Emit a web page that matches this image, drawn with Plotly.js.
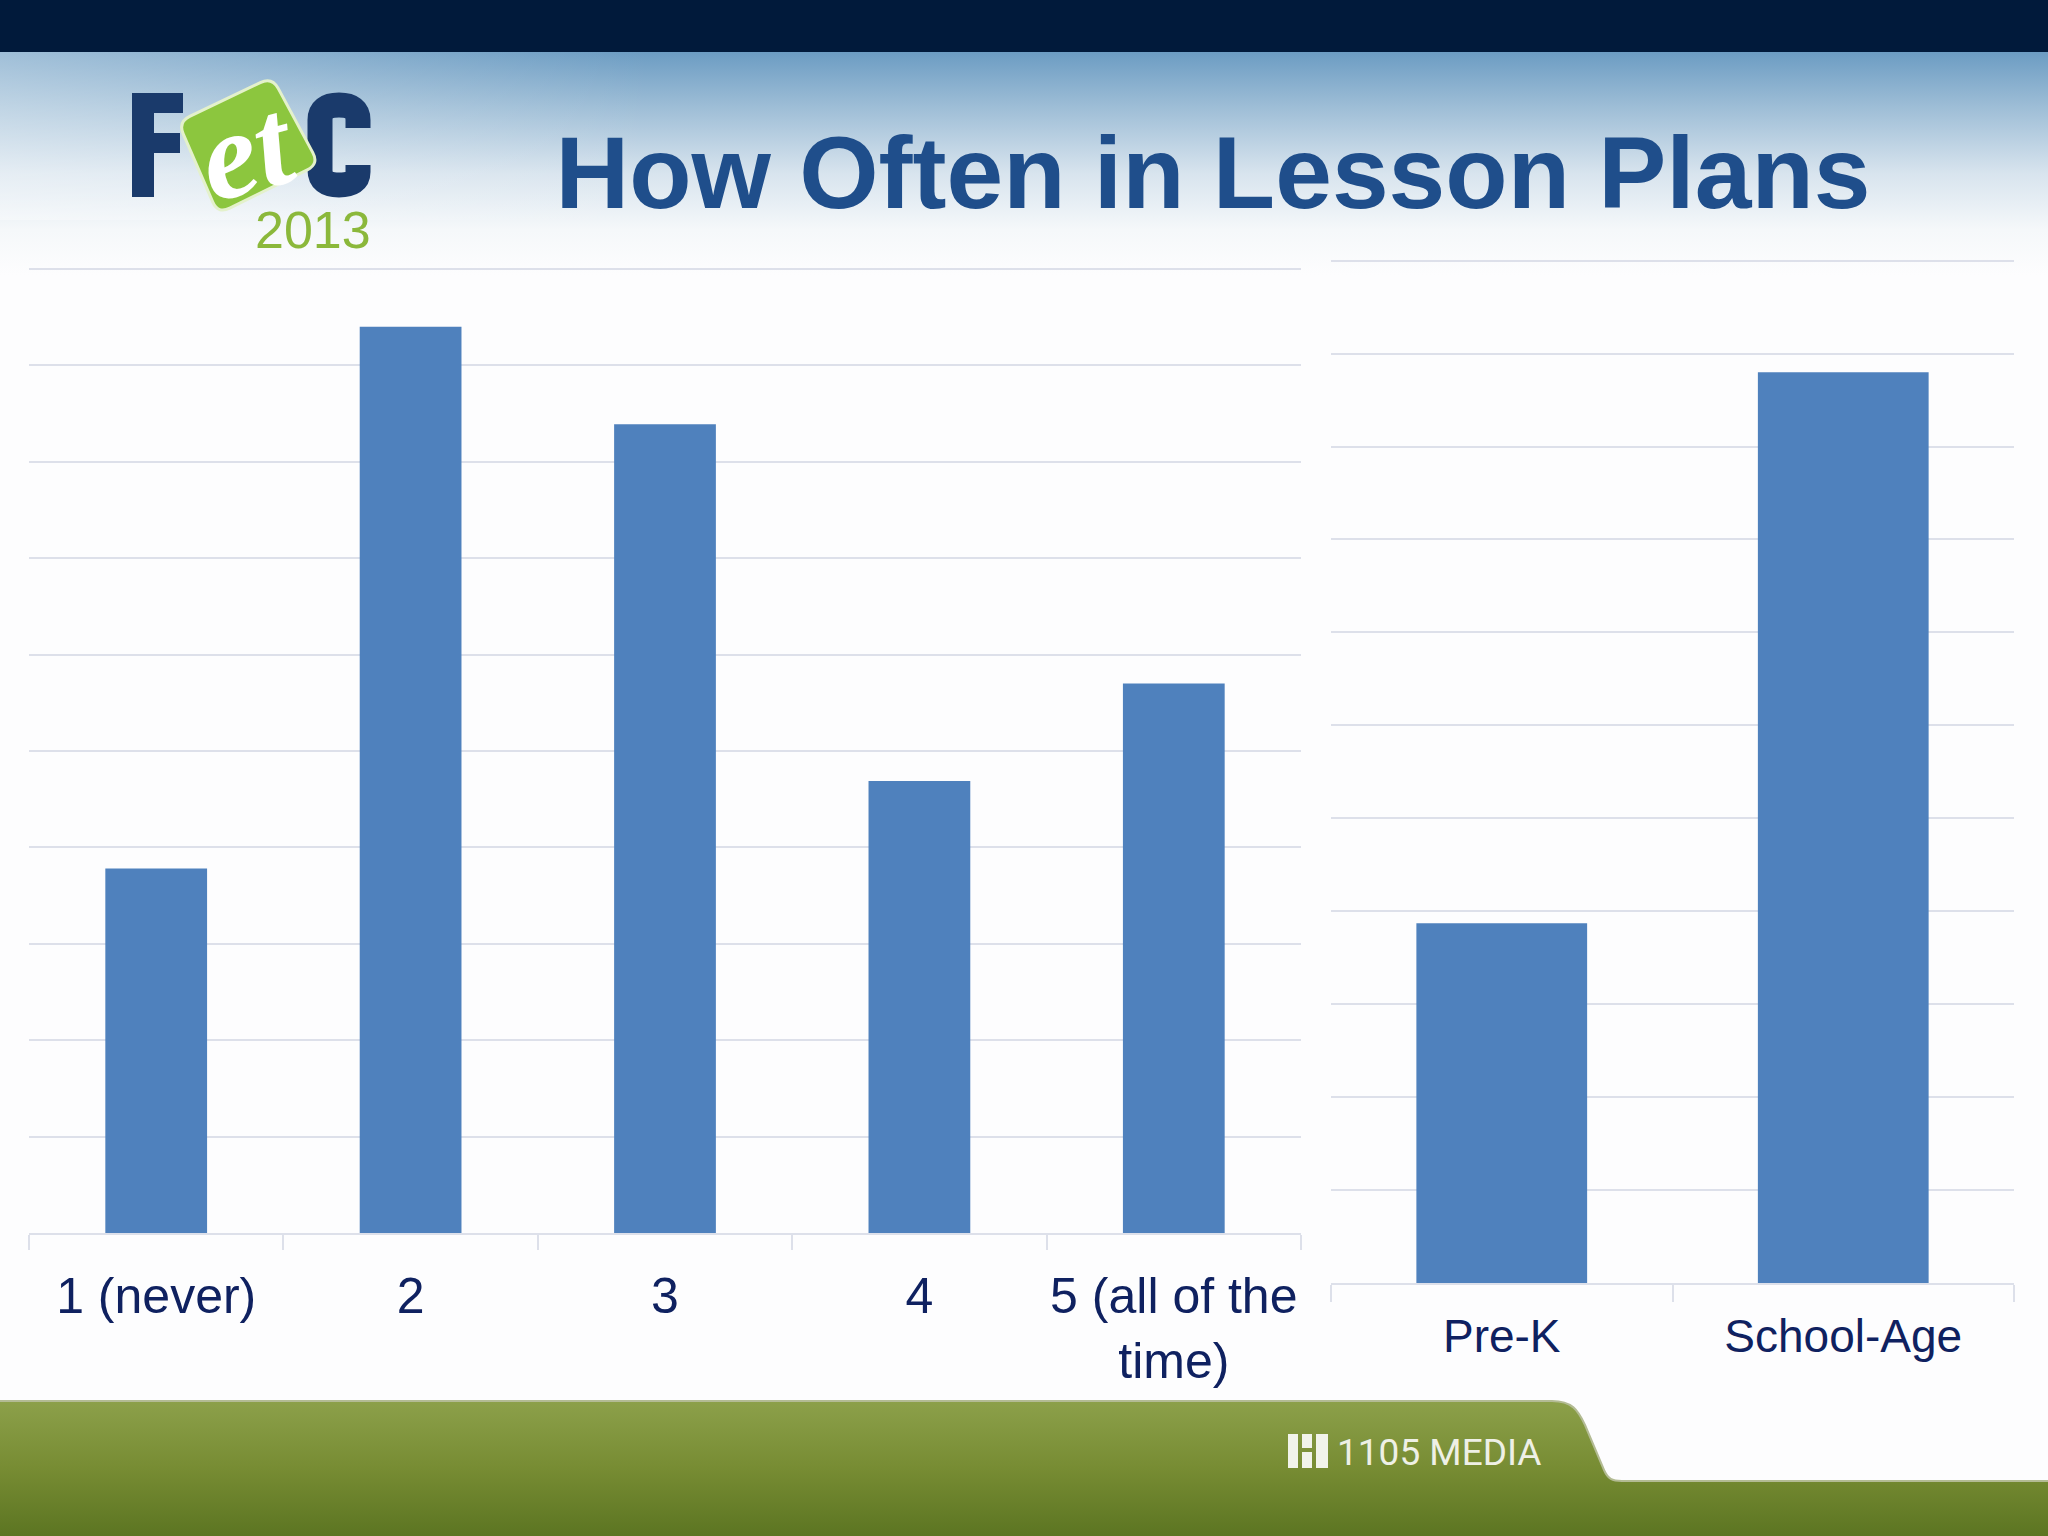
<!DOCTYPE html>
<html>
<head>
<meta charset="utf-8">
<script src="https://cdn.plot.ly/plotly-3.0.1.min.js"></script>
<style>
  html, body { margin: 0; padding: 0; background: #ffffff; }
  #wrap { position: relative; width: 2048px; height: 1536px; overflow: hidden; background: #fdfdfe; }
  #bg { position: absolute; left: 0; top: 0; }
  #chart { position: absolute; left: 0; top: 0; width: 2048px; height: 1536px; }
</style>
</head>
<body>
<div id="wrap">
  <svg id="bg" width="2048" height="1536" xmlns="http://www.w3.org/2000/svg">
    <defs>
      <linearGradient id="hdr" x1="0" y1="0" x2="0" y2="1">
        <stop offset="0" stop-color="#6a9bc2"/>
        <stop offset="0.25" stop-color="#9dbdd6"/>
        <stop offset="0.55" stop-color="#d8e4ee"/>
        <stop offset="0.8" stop-color="#f5f8fa"/>
        <stop offset="1" stop-color="#fdfdfe"/>
      </linearGradient>
      <linearGradient id="hdrLeft" x1="0" y1="0" x2="1" y2="0">
        <stop offset="0" stop-color="#ffffff" stop-opacity="0.35"/>
        <stop offset="1" stop-color="#ffffff" stop-opacity="0"/>
      </linearGradient>
      <linearGradient id="ftr" x1="0" y1="0" x2="0" y2="1">
        <stop offset="0" stop-color="#8ca04a"/>
        <stop offset="0.5" stop-color="#778c33"/>
        <stop offset="1" stop-color="#5c7522"/>
      </linearGradient>
    </defs>
    <rect x="0" y="50" width="2048" height="225" fill="url(#hdr)"/>
    <rect x="0" y="50" width="650" height="170" fill="url(#hdrLeft)"/>
    <rect x="0" y="0" width="2048" height="52" fill="#011a3b"/>
    <path d="M0,1401 L1552,1401 C1572,1401 1578,1410 1585,1425 L1604,1470 C1608,1479 1612,1481 1622,1481 L2048,1481 L2048,1536 L0,1536 Z" fill="url(#ftr)"/>
    <path d="M0,1401 L1552,1401 C1572,1401 1578,1410 1585,1425 L1604,1470 C1608,1479 1612,1481 1622,1481 L2048,1481" fill="none" stroke="#b3bb94" stroke-width="2"/>
    <!-- logo letters -->
    <polygon points="132,93 183,93 183,113 154,113 154,133 180,133 180,153 154,153 154,197 132,197" fill="#1a3a6b"/>
    <path d="M358,128 L358,120 Q358,105 339,105 Q320,105 320,120 L320,170 Q320,185 339,185 Q358,185 358,172 L358,165" fill="none" stroke="#1a3a6b" stroke-width="25"/>
    <path id="sq" d="" fill="#8cc63e" stroke="#e4f1cc" stroke-width="3"/>
    <!-- 1105 media icon -->
    <g fill="#f1f3ea">
      <rect x="1288" y="1434" width="10" height="34"/>
      <rect x="1302" y="1434" width="10" height="14"/>
      <rect x="1302" y="1452" width="10" height="16"/>
      <rect x="1316" y="1434" width="12" height="34"/>
    </g>
  </svg>
  <div id="chart"></div>
</div>
<script>
// ---- data ----
const leftCategories = ['1 (never)', '2', '3', '4', '5 (all of the<br>time)'];
const leftValues = [3.78, 9.40, 8.39, 4.69, 5.70];
const rightCategories = ['Pre-K', 'School-Age'];
const rightValues = [3.87, 9.80];
const titleText = 'How Often in Lesson Plans';

// rounded green square of the logo (decoration)
function roundedPoly(pts, r) {
  let d = '';
  const n = pts.length;
  for (let i = 0; i < n; i++) {
    const p0 = pts[(i - 1 + n) % n], p1 = pts[i], p2 = pts[(i + 1) % n];
    const v1 = [p0[0] - p1[0], p0[1] - p1[1]], v2 = [p2[0] - p1[0], p2[1] - p1[1]];
    const l1 = Math.hypot(v1[0], v1[1]), l2 = Math.hypot(v2[0], v2[1]);
    const a = [p1[0] + v1[0] / l1 * r, p1[1] + v1[1] / l1 * r];
    const b = [p1[0] + v2[0] / l2 * r, p1[1] + v2[1] / l2 * r];
    d += (i === 0 ? 'M' : 'L') + a[0].toFixed(1) + ',' + a[1].toFixed(1) +
         ' Q' + p1[0] + ',' + p1[1] + ' ' + b[0].toFixed(1) + ',' + b[1].toFixed(1) + ' ';
  }
  return d + 'Z';
}
document.getElementById('sq').setAttribute('d',
  roundedPoly([[178, 122], [272, 77], [319, 164], [218, 214]], 13));

const W = 2048, H = 1536;
const px = x => x / W;
const py = y => 1 - y / H;

const barColor = '#4f81bd';
const tickFont = { family: 'Liberation Sans, Arial, sans-serif', color: '#0f2160' };
const gridColor = '#dde0ea';

const traces = [
  { type: 'bar', x: leftCategories, y: leftValues, xaxis: 'x', yaxis: 'y',
    width: 0.4, marker: { color: barColor }, hoverinfo: 'skip' },
  { type: 'bar', x: rightCategories, y: rightValues, xaxis: 'x2', yaxis: 'y2',
    width: 0.5, marker: { color: barColor }, hoverinfo: 'skip' }
];

const axX = {
  type: 'category', showgrid: false, zeroline: false, tickangle: 0,
  showline: true, linecolor: gridColor, linewidth: 2,
  ticks: 'outside', tickson: 'boundaries', tickcolor: gridColor, tickwidth: 2
};
const axY = {
  showticklabels: false, ticks: '', zeroline: false, showline: false,
  gridcolor: gridColor, gridwidth: 2, tick0: 0, dtick: 1
};

// left panel: 96.4 px per unit, baseline 1233; right panel: 92.94 px per unit, baseline 1283
const layout = {
  width: W, height: H,
  margin: { l: 0, r: 0, t: 0, b: 0, pad: 0 },
  paper_bgcolor: 'rgba(0,0,0,0)', plot_bgcolor: 'rgba(0,0,0,0)',
  showlegend: false,
  title: {
    text: titleText, x: px(1213), xanchor: 'center', xref: 'paper',
    y: py(172), yanchor: 'middle', yref: 'container',
    font: { family: 'Liberation Sans, Arial, sans-serif', size: 102, color: '#1f4e8b', weight: 'bold' }
  },
  xaxis: Object.assign({}, axX, {
    domain: [px(29), px(1301)], anchor: 'y', range: [-0.5, 4.5],
    ticklen: 15, ticklabelstandoff: 18,
    tickfont: Object.assign({}, tickFont, { size: 50 })
  }),
  yaxis: Object.assign({}, axY, {
    domain: [py(1233), py(1233 - 10.3 * 96.4)], anchor: 'x', range: [0, 10.3]
  }),
  xaxis2: Object.assign({}, axX, {
    domain: [px(1331), px(2014)], anchor: 'y2', range: [-0.5, 1.5],
    ticklen: 17, ticklabelstandoff: 12,
    tickfont: Object.assign({}, tickFont, { size: 46 })
  }),
  yaxis2: Object.assign({}, axY, {
    domain: [py(1283), py(1283 - 11.3 * 92.94)], anchor: 'x2', range: [0, 11.3]
  }),
  annotations: [
    { text: '<b><i>et</i></b>', xref: 'paper', yref: 'paper', x: px(246), y: py(150),
      xanchor: 'center', yanchor: 'middle', showarrow: false, textangle: -15,
      font: { family: 'Liberation Serif, DejaVu Serif, serif', size: 124, color: '#ffffff' } },
    { text: '2013', xref: 'paper', yref: 'paper', x: px(313), y: py(230),
      xanchor: 'center', yanchor: 'middle', showarrow: false,
      font: { family: 'Liberation Sans, Arial, sans-serif', size: 52, color: '#8bb83b' } },
    { text: '1105 MEDIA', xref: 'paper', yref: 'paper', x: px(1439), y: py(1452),
      xanchor: 'center', yanchor: 'middle', showarrow: false,
      font: { family: 'Roboto, sans-serif', size: 37, color: '#eef0e6' } }
  ]
};

Plotly.newPlot('chart', traces, layout, { displayModeBar: false, staticPlot: true });
</script>
</body>
</html>
